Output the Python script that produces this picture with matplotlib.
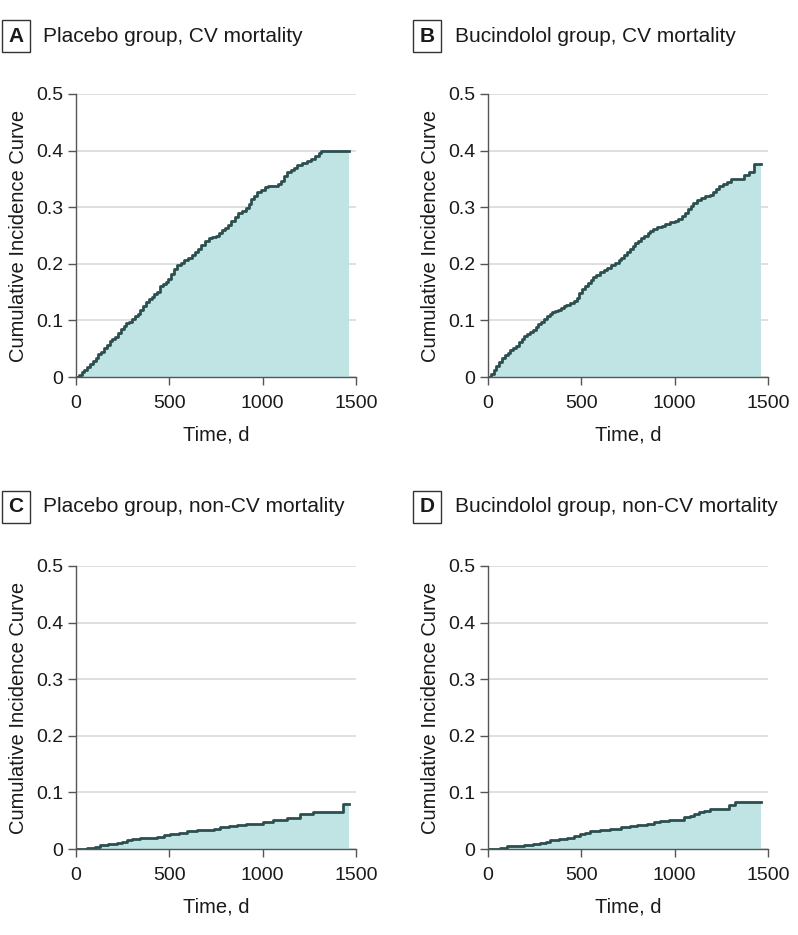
import matplotlib
matplotlib.use('Agg')
import matplotlib.pyplot as plt

plt.rcParams['font.family'] = ['Liberation Sans', 'DejaVu Sans']

# Dados (tempo em dias, incidencia acumulada)
placebo_cv_t = [0, 15, 30, 45, 60, 75, 90, 105, 120, 135, 150, 165, 180, 195, 210, 225, 240,
                255, 270, 285, 300, 315, 330, 345, 360, 375, 390, 405, 420, 435, 450, 465, 480,
                495, 510, 525, 540, 560, 580, 600, 620, 640, 655, 670, 690, 710, 730, 750, 765,
                780, 800, 815, 830, 850, 870, 890, 910, 925, 940, 955, 970, 990, 1010, 1030,
                1060, 1080, 1100, 1115, 1130, 1150, 1170, 1185, 1210, 1240, 1260, 1280, 1300,
                1315, 1465]
placebo_cv_y = [0, 0.003, 0.008, 0.013, 0.017, 0.023, 0.028, 0.034, 0.040, 0.045, 0.051, 0.057,
                0.063, 0.067, 0.071, 0.077, 0.084, 0.090, 0.095, 0.098, 0.102, 0.107, 0.112,
                0.118, 0.126, 0.133, 0.137, 0.142, 0.146, 0.150, 0.160, 0.165, 0.168, 0.174,
                0.182, 0.190, 0.197, 0.202, 0.207, 0.210, 0.215, 0.220, 0.227, 0.234, 0.240,
                0.245, 0.247, 0.249, 0.254, 0.259, 0.263, 0.268, 0.276, 0.283, 0.290, 0.294,
                0.299, 0.306, 0.314, 0.320, 0.326, 0.331, 0.335, 0.337, 0.338, 0.341, 0.347,
                0.356, 0.362, 0.366, 0.370, 0.375, 0.378, 0.381, 0.385, 0.390, 0.395, 0.400,
                0.400]

bucin_cv_t = [0, 15, 30, 45, 60, 75, 90, 105, 120, 135, 150, 165, 180, 195, 210, 225, 240, 255,
              270, 285, 300, 315, 330, 345, 360, 375, 390, 405, 420, 440, 460, 475, 490, 505,
              520, 535, 550, 565, 580, 600, 620, 640, 660, 680, 700, 715, 730, 745, 760, 775,
              790, 805, 820, 835, 855, 870, 885, 905, 930, 950, 975, 1000, 1020, 1040, 1055,
              1070, 1085, 1100, 1120, 1140, 1165, 1190, 1205, 1220, 1240, 1260, 1280, 1300,
              1350, 1370, 1396, 1423, 1464]
bucin_cv_y = [0, 0.006, 0.013, 0.020, 0.027, 0.033, 0.038, 0.043, 0.047, 0.051, 0.055, 0.061,
              0.067, 0.072, 0.076, 0.079, 0.083, 0.088, 0.093, 0.098, 0.102, 0.107, 0.111,
              0.114, 0.117, 0.119, 0.122, 0.125, 0.128, 0.131, 0.135, 0.140, 0.149, 0.155,
              0.161, 0.166, 0.171, 0.177, 0.181, 0.185, 0.189, 0.193, 0.198, 0.202, 0.207,
              0.211, 0.216, 0.221, 0.227, 0.231, 0.236, 0.241, 0.246, 0.250, 0.254, 0.258,
              0.262, 0.265, 0.267, 0.270, 0.273, 0.276, 0.279, 0.284, 0.290, 0.297, 0.303,
              0.308, 0.312, 0.316, 0.319, 0.322, 0.327, 0.332, 0.337, 0.341, 0.345, 0.349,
              0.350, 0.357, 0.363, 0.376, 0.376]

placebo_noncv_t = [0, 60, 100, 129, 170, 218, 245, 271, 300, 343, 390, 432, 470, 504, 550, 593,
                   650, 700, 740, 771, 820, 861, 910, 950, 1000, 1057, 1129, 1200, 1271, 1432,
                   1464]
placebo_noncv_y = [0, 0.002, 0.003, 0.0065, 0.008, 0.010, 0.013, 0.0165, 0.018, 0.019, 0.020,
                   0.022, 0.025, 0.027, 0.029, 0.031, 0.033, 0.034, 0.036, 0.039, 0.040, 0.042,
                   0.044, 0.045, 0.047, 0.051, 0.055, 0.061, 0.066, 0.080, 0.080]

bucin_noncv_t = [0, 66, 102, 150, 191, 240, 280, 310, 334, 380, 423, 460, 495, 520, 548, 600,
                 655, 710, 763, 800, 852, 890, 923, 970, 1013, 1048, 1080, 1102, 1130, 1155,
                 1191, 1289, 1325, 1464]
bucin_noncv_y = [0, 0.002, 0.005, 0.006, 0.0077, 0.009, 0.0106, 0.013, 0.0153, 0.017, 0.020,
                 0.023, 0.027, 0.029, 0.031, 0.033, 0.036, 0.038, 0.041, 0.043, 0.045, 0.047,
                 0.049, 0.051, 0.052, 0.0566, 0.059, 0.061, 0.065, 0.068, 0.071, 0.077, 0.083,
                 0.083]

painel_letras = ['A', 'B', 'C', 'D']
painel_titulos = ['Placebo group, CV mortality', 'Bucindolol group, CV mortality',
                  'Placebo group, non-CV mortality', 'Bucindolol group, non-CV mortality']
series = [(placebo_cv_t, placebo_cv_y), (bucin_cv_t, bucin_cv_y),
          (placebo_noncv_t, placebo_noncv_y), (bucin_noncv_t, bucin_noncv_y)]

cor_linha = '#2b4f4e'
cor_area = '#bfe4e3'

W, H = 798, 935
fig = plt.figure(figsize=(W / 100, H / 100), dpi=100)

# posicoes em pixels: (esquerda, topo) do eixo, e posicao do titulo
eixos_px = [(76, 94), (488, 94), (76, 566), (488, 566)]
titulo_px = [(16, 36, 43), (427, 36, 455), (16, 507, 43), (427, 507, 455)]
largura, altura = 280, 283

for i in range(4):
  x0, y0 = eixos_px[i]
  ax = fig.add_axes([x0 / W, 1 - (y0 + altura) / H, largura / W, altura / H])
  t, y = series[i]
  ax.fill_between(t, y, step='post', color=cor_area, linewidth=0)
  ax.plot(t, y, drawstyle='steps-post', color=cor_linha, linewidth=2.0)

  ax.set_xlim(0, 1500)
  ax.set_ylim(0, 0.5)
  ax.set_xticks([0, 500, 1000, 1500])
  ax.set_yticks([0, 0.1, 0.2, 0.3, 0.4, 0.5])
  ax.set_yticklabels(['0', '0.1', '0.2', '0.3', '0.4', '0.5'])
  ax.yaxis.grid(True, color='#d9d9d9', linewidth=1.2)
  ax.set_axisbelow(True)
  for lado in ['top', 'right']:
    ax.spines[lado].set_visible(False)
  for lado in ['left', 'bottom']:
    ax.spines[lado].set_color('#555555')
    ax.spines[lado].set_linewidth(1.0)
  ax.tick_params(axis='both', direction='out', length=6, width=1.0, color='#555555',
                 labelsize=14, labelcolor='#1a1a1a')
  ax.tick_params(axis='x', pad=7)
  ax.tick_params(axis='y', pad=3)
  ax.set_xlabel('Time, d', fontsize=14.5, color='#1a1a1a', labelpad=9.5)
  ax.set_ylabel('Cumulative Incidence Curve', fontsize=14.5, color='#1a1a1a', labelpad=6)

  bx, by, tx = titulo_px[i]
  fig.text(bx / W, 1 - by / H, painel_letras[i], fontsize=15, fontweight='bold',
           ha='center', va='center', color='#1a1a1a',
           bbox=dict(boxstyle='square,pad=0.3', facecolor='white', edgecolor='#333333',
                     linewidth=1.0))
  fig.text(tx / W, 1 - by / H, painel_titulos[i], fontsize=15, ha='left', va='center',
           color='#1a1a1a')

fig.savefig('out.png', dpi=100)
